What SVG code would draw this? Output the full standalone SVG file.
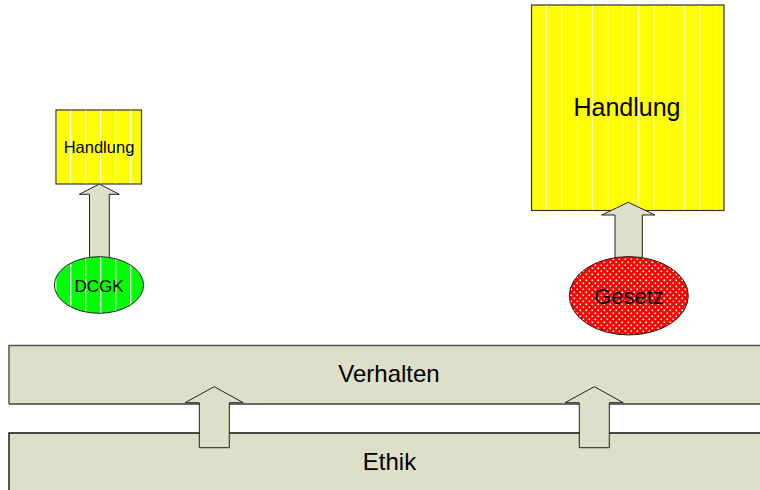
<svg xmlns="http://www.w3.org/2000/svg" width="760" height="490" viewBox="0 0 760 490">
  <defs>
    <pattern id="stripesSmall" patternUnits="userSpaceOnUse" x="10" y="0" width="15" height="20">
      <rect x="0" y="0" width="1.4" height="20" fill="#ffffff" fill-opacity="0.85"/>
    </pattern>
    <pattern id="stripesBig" patternUnits="userSpaceOnUse" x="546" y="0" width="15.36" height="20">
      <rect x="-0.7" y="0" width="1.5" height="20" fill="#ffffff" fill-opacity="0.85"/>
    </pattern>
    <pattern id="dots" patternUnits="userSpaceOnUse" x="0" y="0" width="6" height="6">
      <rect x="0.5" y="0.5" width="1.6" height="1.6" fill="#ffffff"/>
      <rect x="3.5" y="3.5" width="1.6" height="1.6" fill="#ffffff"/>
    </pattern>
  </defs>
  <style>
    .band { fill: #dddfc9; }
    .arrow { fill: #dddfc9; stroke: #222222; stroke-width: 1; stroke-linejoin: miter; }
    .box { stroke: #333333; stroke-width: 1.2; }
    .ell { stroke: #222222; stroke-width: 1; }
    text { font-family: "Liberation Sans", Arial, sans-serif; fill: #000000; text-anchor: middle; }
  </style>

  <g id="ethik">
    <rect class="band" x="9" y="433" width="760" height="70"/>
    <path d="M9,500 L9,433 L770,433" fill="none" stroke="#111111" stroke-width="1.4"/>
    <text x="389.5" y="469.5" font-size="24">Ethik</text>
  </g>

  <g id="verhalten">
    <rect class="band" x="9" y="345.5" width="760" height="58.5"/>
    <path d="M9,404 L9,345.5 L770,345.5" fill="none" stroke="#555555" stroke-width="1.5"/>
    <path d="M9,404 L770,404" fill="none" stroke="#6a6a6a" stroke-width="2.2"/>
    <text x="389" y="382" font-size="24">Verhalten</text>
  </g>

  <g id="handlung-small">
    <rect class="box" x="56" y="110" width="85.5" height="74" fill="#ffff00"/>
    <rect x="56.6" y="110.6" width="84.3" height="72.8" fill="url(#stripesSmall)"/>
    <text x="99" y="153" font-size="16.5">Handlung</text>
  </g>

  <g id="handlung-big">
    <rect class="box" x="531.5" y="5" width="192.5" height="205.5" fill="#ffff00"/>
    <rect x="532.1" y="5.6" width="191.3" height="204.3" fill="url(#stripesBig)"/>
    <text x="627" y="115.5" font-size="25">Handlung</text>
  </g>

  <g id="connectors">
    <path class="arrow" d="M89.5,262 L89.5,194.3 L79.3,194.3 L99.3,184 L119.3,194.3 L109.3,194.3 L109.3,262 Z"/>
    <path class="arrow" d="M615,262 L615,215 L601.7,215 L628.3,202.3 L655,215 L642.3,215 L642.3,262 Z"/>
    <path class="arrow" d="M199.3,447.7 L199.3,402.7 L185,402.7 L214.2,386.7 L243.3,402.7 L229.3,402.7 L229.3,447.7 Z"/>
    <path class="arrow" d="M579.3,447.7 L579.3,402.7 L565,402.7 L594.3,386.7 L623.3,402.7 L609.3,402.7 L609.3,447.7 Z"/>
  </g>

  <g id="dcgk">
    <ellipse class="ell" cx="99" cy="285" rx="44.6" ry="28.3" fill="#00ff00"/>
    <ellipse cx="99" cy="285" rx="44" ry="27.7" fill="url(#stripesSmall)"/>
    <text x="99" y="291.5" font-size="17">DCGK</text>
  </g>

  <g id="gesetz">
    <ellipse class="ell" cx="628.8" cy="295.8" rx="59.5" ry="39.2" fill="#ff0000"/>
    <ellipse cx="628.8" cy="295.8" rx="58.8" ry="38.5" fill="url(#dots)"/>
    <text x="629" y="303.5" font-size="22">Gesetz</text>
  </g>
</svg>
